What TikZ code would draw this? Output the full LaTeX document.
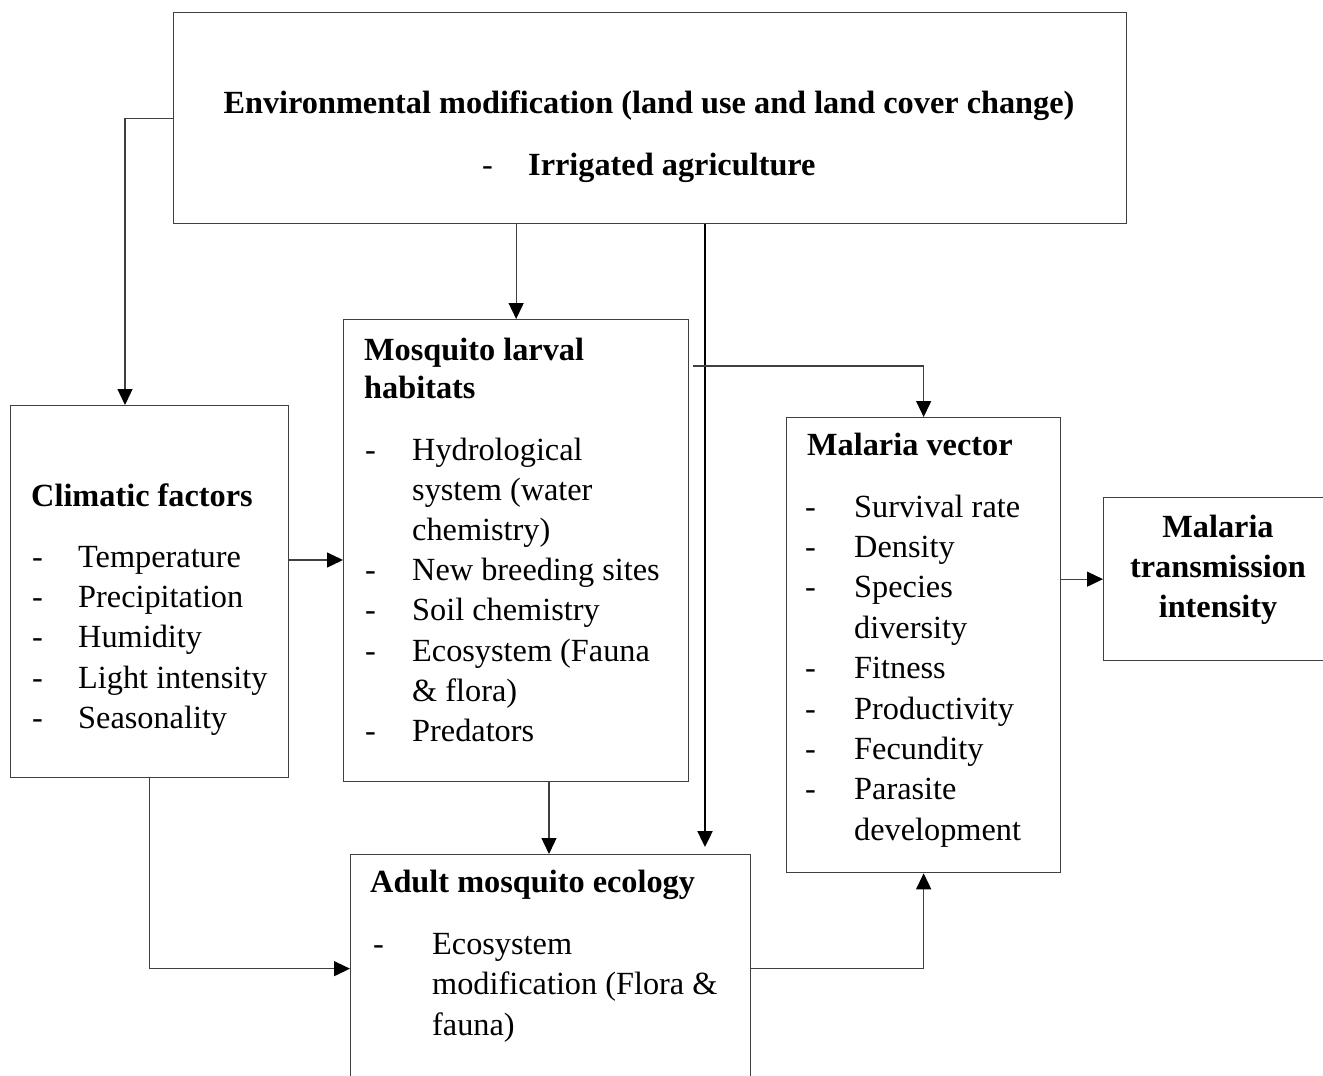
\documentclass[tikz,border=0pt]{standalone}
\usepackage{fontspec}
\setmainfont{Liberation Serif}
\usetikzlibrary{arrows.meta,calc}
\definecolor{lin}{HTML}{404040}
\begin{document}
\begin{tikzpicture}[x=1pt,y=-1pt,
  box/.style={draw=lin,line width=1.3pt,rectangle,inner sep=0pt,anchor=north west},
  conn/.style={draw=lin,line width=1.3pt,-{Triangle[length=16pt,width=15pt,color=black]}},
  thickconn/.style={draw=black,line width=2.4pt,-{Triangle[length=16pt,width=15pt]}},
  plain/.style={draw=lin,line width=1.3pt},
  txt/.style={anchor=base west,inner sep=0pt,font=\fontsize{32.3}{40.4}\selectfont},
  btxt/.style={txt,font=\fontsize{32.3}{40.4}\selectfont\bfseries},
  ctxt/.style={anchor=base,inner sep=0pt,font=\fontsize{32.3}{40.4}\selectfont\bfseries}]
\useasboundingbox (0,0) rectangle (1323,1076);
% boxes
\node[box,minimum width=953pt,minimum height=211pt] (top) at (173,12) {};
\node[box,minimum width=278pt,minimum height=372pt] (clim) at (10,405) {};
\node[box,minimum width=345pt,minimum height=462pt] (larv) at (343,319) {};
\node[box,minimum width=274pt,minimum height=455pt] (vec) at (786,417) {};
\node[box,minimum width=230pt,minimum height=163pt] (trans) at (1103,497) {};
\node[box,minimum width=400pt,minimum height=228pt] (adult) at (350,854) {};
% top texts
\node[ctxt] (t1) at (649,113) {Environmental modification (land use and land cover change)};
\node[txt] (t2d) at (482,175) {-};
\node[btxt] (t2) at (528,175) {Irrigated agriculture};
% climatic
\node[btxt] (c0) at (31,506) {Climatic factors};
\foreach \t [count=\i from 0] in {Temperature,Precipitation,Humidity,Light intensity,Seasonality}{
  \node[txt] (cd\i) at (32,567+40.4*\i) {-};
  \node[txt] (ct\i) at (78,567+40.4*\i) {\t};
}
% larval
\node[btxt] (l0) at (364,360) {Mosquito larval};
\node[btxt] (l1) at (364,398) {habitats};
\foreach \d/\t [count=\i from 0] in {-/Hydrological,/system (water,/chemistry),-/New breeding sites,-/Soil chemistry,-/Ecosystem (Fauna,/\& flora),-/Predators}{
  \node[txt] (ld\i) at (365,460+40.2*\i) {\d};
  \node[txt] (lt\i) at (412,460+40.2*\i) {\t};
}
% vector
\node[btxt] (v0) at (807,455) {Malaria vector};
\foreach \d/\t [count=\i from 0] in {-/Survival rate,-/Density,-/Species,/diversity,-/Fitness,-/Productivity,-/Fecundity,-/Parasite,/development}{
  \node[txt] (vd\i) at (805,517+40.4*\i) {\d};
  \node[txt] (vt\i) at (854,517+40.4*\i) {\t};
}
% transmission
\node[ctxt] (m0) at (1218,537) {Malaria};
\node[ctxt] (m1) at (1218,577) {transmission};
\node[ctxt] (m2) at (1218,617) {intensity};
% adult
\node[btxt] (a0) at (370,892) {Adult mosquito ecology};
\node[txt] (ad0) at (373,954) {-};
\node[txt] (at0) at (432,954) {Ecosystem};
\node[txt] (at1) at (432,994.5) {modification (Flora \&};
\node[txt] (at2) at (432,1035) {fauna)};
% helper coordinates
\coordinate (climin) at ($(clim.north west)+(115,0)$);
\coordinate (climout) at ($(clim.north east)+(0,155)$);
\coordinate (thtop) at ($(top.south west)+(532,0)$);
\coordinate (thend) at ($(adult.north west)+(355,-7)$);
\coordinate (larvout) at ($(larv.north east)+(4,47)$);
\coordinate (larvbot) at ($(larv.south west)+(206,0)$);
% connectors
\draw[conn] (top.west) -| (climin);
\draw[conn] (top.south -| larv.north) -- (larv.north);
\draw[thickconn] (thtop) -- (thend);
\draw[conn] (larvout) -| (vec.north);
\draw[conn] (climout) -- (climout -| larv.west);
\draw[conn] (larvbot) -- (larvbot |- adult.north);
\draw[conn] (clim.south) |- (adult.west);
\draw[conn] (adult.east) -| (vec.south);
\draw[conn] (vec.east |- trans.west) -- (trans.west);
\end{tikzpicture}
\end{document}
